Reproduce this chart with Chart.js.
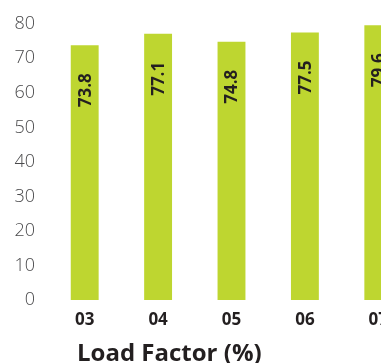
<!DOCTYPE html>
<html>
<head>
<meta charset="utf-8">
<script src="https://cdn.jsdelivr.net/npm/chart.js@4/dist/chart.umd.min.js"></script>
<style>
  html, body { margin: 0; padding: 0; background: #fff; overflow: hidden; }
  #wrap { position: relative; width: 381px; height: 363px; overflow: hidden; }
  #chart { position: absolute; left: 0; top: 0; }
  #axisTitle {
    position: absolute; left: 77px; top: 335px;
    font: bold 24px "Open Sans", sans-serif; color: #231f20; white-space: nowrap;
  }
</style>
</head>
<body>
<div id="wrap">
  <canvas id="chart" width="415" height="363"></canvas>
  <div id="axisTitle">Load Factor (%)</div>
</div>
<script>
// Load factor per year
const years = ['03', '04', '05', '06', '07'];
const loadFactor = [73.8, 77.1, 74.8, 77.5, 79.6];
const yTicks = [0, 10, 20, 30, 40, 50, 60, 70, 80];

const BAR_GREEN = '#bed630';

// Writes each value vertically inside its bar, near the top
const barValueLabels = {
    id: 'barValueLabels',
    afterDatasetsDraw(chart) {
        const ctx = chart.ctx;
        const meta = chart.getDatasetMeta(0);
        ctx.save();
        ctx.font = 'bold 17px "Open Sans", sans-serif';
        ctx.fillStyle = '#231f20';
        ctx.textAlign = 'center';
        ctx.textBaseline = 'middle';
        meta.data.forEach((bar, i) => {
            ctx.save();
            ctx.translate(bar.x + 1, bar.y + 45);
            ctx.rotate(-Math.PI / 2);
            ctx.fillText(loadFactor[i].toFixed(1), 0, 0);
            ctx.restore();
        });
        ctx.restore();
    }
};

new Chart(document.getElementById('chart'), {
    type: 'bar',
    data: {
        labels: years,
        datasets: [{
            data: loadFactor,
            backgroundColor: BAR_GREEN,
            barPercentage: 0.38,
            categoryPercentage: 1
        }]
    },
    options: {
        responsive: false,
        animation: false,
        layout: { padding: { top: 19, right: 0, bottom: 0, left: 0 } },
        plugins: {
            legend: { display: false },
            tooltip: { enabled: false }
        },
        scales: {
            y: {
                min: 0,
                max: 80,
                afterFit: scale => { scale.width = 48; },
                afterBuildTicks: scale => { scale.ticks = yTicks.map(v => ({ value: v })); },
                grid: { display: false, drawTicks: false },
                border: { display: false },
                ticks: {
                    padding: 13,
                    color: '#4a4a4c',
                    font: { family: '"Open Sans", sans-serif', size: 18, weight: '300' }
                }
            },
            x: {
                afterFit: scale => { scale.height = 63; },
                grid: { display: false, drawTicks: false },
                border: { display: false },
                ticks: {
                    padding: 10,
                    color: '#231f20',
                    font: { family: '"Open Sans", sans-serif', size: 17, weight: 'bold' }
                }
            }
        }
    },
    plugins: [barValueLabels]
});
</script>
</body>
</html>
